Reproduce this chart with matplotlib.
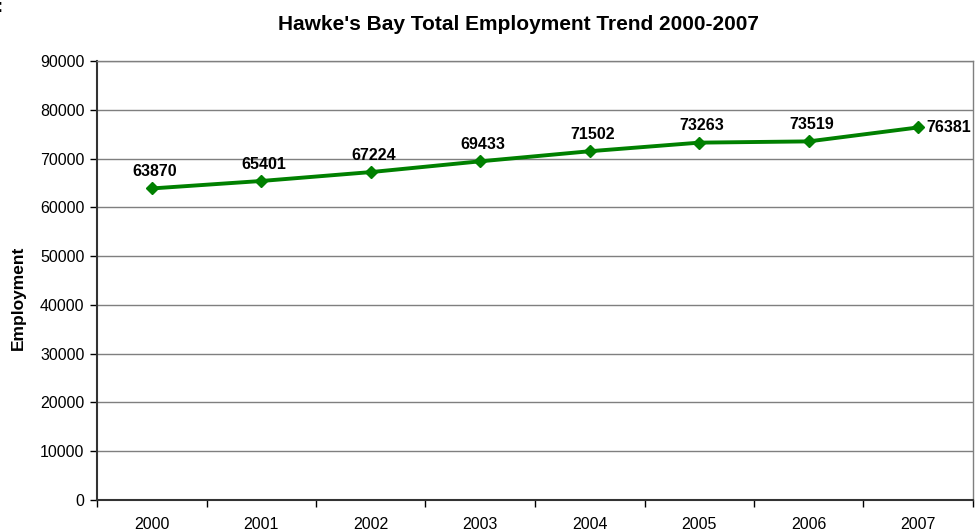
import matplotlib.pyplot as plt
from matplotlib.ticker import FixedLocator, NullFormatter

years = ["2000", "2001", "2002", "2003", "2004", "2005", "2006", "2007"]
employment = [63870, 65401, 67224, 69433, 71502, 73263, 73519, 76381]
y_ticks = list(range(0, 90001, 10000))

plt.rcParams["font.family"] = ["Liberation Sans", "DejaVu Sans"]

fig = plt.figure(figsize=(9.75, 5.31), dpi=100)
ax = fig.add_axes([97 / 975, 1 - 500 / 531, 876 / 975, 439 / 531])

x = list(range(len(years)))
ax.plot(x, employment, color="#008000", lw=2.8, marker="D", ms=6.5,
        markeredgecolor="#008000", zorder=3)

for i, v in enumerate(employment):
    if i == len(years) - 1:
        ax.annotate(str(v), (i, v), xytext=(6, 0), textcoords="offset points",
                    ha="left", va="center", fontsize=11.5, fontweight="bold")
    else:
        ax.annotate(str(v), (i, v), xytext=(2, 12), textcoords="offset points",
                    ha="center", va="center", fontsize=11.5, fontweight="bold")

ax.set_xlim(-0.5, len(years) - 0.5)
ax.set_ylim(0, 90000)
ax.set_yticks(y_ticks)
ax.set_yticklabels([str(t) for t in y_ticks], fontsize=11.5)
ax.yaxis.grid(True, color="#7f7f7f", lw=1)
ax.set_axisbelow(True)

# category labels at centres, tick marks at the boundaries
ax.set_xticks(x)
ax.set_xticklabels(years, fontsize=11.5)
ax.tick_params(axis="x", which="major", length=0, pad=12)
ax.xaxis.set_minor_locator(FixedLocator([i + 0.5 for i in range(-1, len(years))]))
ax.xaxis.set_minor_formatter(NullFormatter())
ax.tick_params(axis="x", which="minor", length=5, width=1, color="black", direction="out")
ax.tick_params(axis="y", length=5, width=1, direction="out", pad=4)

for side in ["top", "right"]:
    ax.spines[side].set_color("#7f7f7f")
    ax.spines[side].set_linewidth(1)
for side in ["left", "bottom"]:
    ax.spines[side].set_color("#333333")
    ax.spines[side].set_linewidth(1.5)

fig.text(18 / 975, 1 - 298 / 531, "Employment", rotation=90, ha="center", va="center",
         fontsize=12.5, fontweight="bold")
fig.text(518 / 975, 1 - 25 / 531, "Hawke's Bay Total Employment Trend 2000-2007",
         ha="center", va="center", fontsize=15, fontweight="bold")
fig.text(-0.004, 1 - 8 / 531, ":", ha="left", va="center", fontsize=13, fontweight="bold")

fig.savefig("out.png", dpi=100)
